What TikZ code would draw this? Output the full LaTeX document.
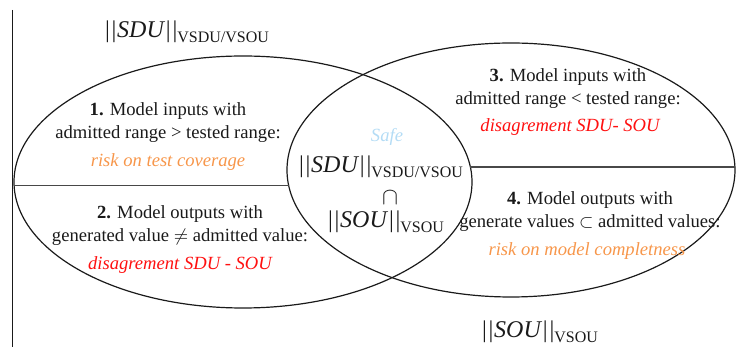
\documentclass[tikz,border=0pt]{standalone}
\usepackage{amsmath}
\usepackage{amssymb}
\usepackage{xcolor}
\usepackage{fontspec}
\setmainfont{Liberation Serif}
\definecolor{diagink}{HTML}{1A1A1A}
\definecolor{riskorange}{HTML}{F7964A}
\definecolor{disagreered}{HTML}{FF1010}
\definecolor{safeblue}{HTML}{B4DCF5}
\newcommand{\vbars}{|\kern0.9pt|}
\newcommand{\vnorm}[2]{\vbars\kern0.4pt\textit{#1}\kern0.4pt\vbars\raisebox{-0.45ex}{\fontsize{8}{8}\selectfont #2}}

\begin{document}
\begin{tikzpicture}[
  x=0.5pt,
  y=-0.5pt,
  every node/.style={font=\fontsize{9.3}{11.5}\selectfont, diagink, inner sep=0pt},
  outline/.style={diagink, line width=0.6pt},
  divider/.style={diagink!80, line width=0.7pt},
  region/.style={align=center},
  normlabel/.style={font=\fontsize{12}{14}\selectfont},
  risk/.style={riskorange, font=\fontsize{9.3}{11.5}\selectfont\itshape},
  clash/.style={disagreered, font=\fontsize{9.3}{11.5}\selectfont\itshape}
]
  \useasboundingbox (0,0) rectangle (736,347);

  % ---- frame edge and the two sets ---------------------------------------
  \draw[diagink, line width=0.5pt] (13,10) -- (13,347);
  \draw[outline] (243,182) ellipse [x radius=229, y radius=126];
  \draw[outline] (511,170) ellipse [x radius=224, y radius=127];

  % ---- dividers between inputs and outputs -------------------------------
  \draw[divider] (14,185.5) -- (288.7,185.5);
  \draw[divider] (470.4,167) -- (735,167);

  % ---- set labels --------------------------------------------------------
  \node[normlabel] (sdulabel) at (187,32) {\vnorm{SDU}{VSDU/VSOU}};
  \node[normlabel] (soulabel) at (540,332) {\vnorm{SOU}{VSOU}};

  % ---- left set: inputs (top) and outputs (bottom) -----------------------
  \node[region] (inleft) at (168,123)
    {\textbf{1.} Model inputs with\\ admitted range > tested range:};
  \node[risk] (inleftrisk) at (168,162) {risk on test coverage};
  \node[region] (outleft) at (180,226)
    {\textbf{2.} Model outputs with\\ generated value $\neq$ admitted value:};
  \node[clash] (outleftclash) at (180,265) {disagrement SDU - SOU};

  % ---- right set: inputs (top) and outputs (bottom) ----------------------
  \node[region] (inright) at (568,89)
    {\textbf{3.} Model inputs with\\ admitted range < tested range:};
  \node[clash] (inrightclash) at (570,127) {disagrement SDU- SOU};
  \node[region] (outright) at (590,212)
    {\textbf{4.} Model outputs with\\ generate values $\subset$ admitted values:};
  \node[risk] (outrightrisk) at (587,251) {risk on model completness};

  % ---- intersection ------------------------------------------------------
  \node[safeblue, font=\fontsize{9.3}{11.5}\selectfont\itshape] (safe) at (387,137) {Safe};
  \node[normlabel] (midsdu) at (381,167) {\vnorm{SDU}{VSDU/VSOU}};
  \node[normlabel] (midcap) at (390,198) {$\cap$};
  \node[normlabel] (midsou) at (386,222) {\vnorm{SOU}{VSOU}};
\end{tikzpicture}
\end{document}
